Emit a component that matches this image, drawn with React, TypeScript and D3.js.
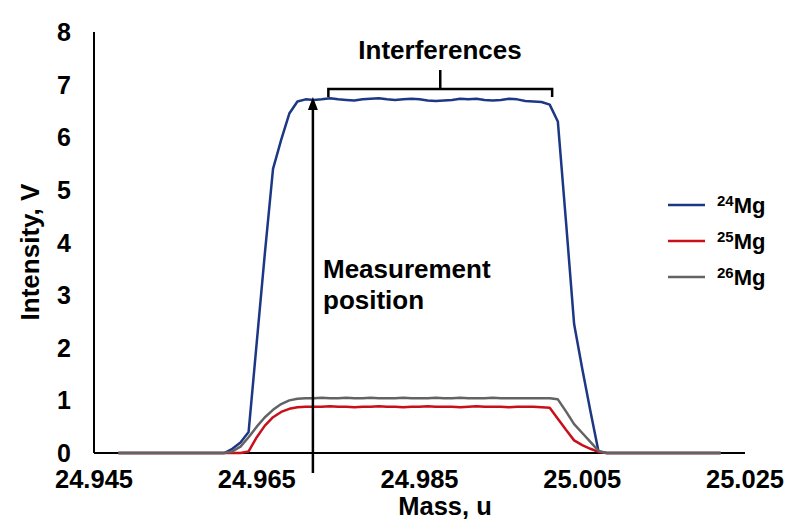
import React from "react";
import * as d3 from "d3";

const masses = [
  24.948, 24.961, 24.962, 24.963, 24.964, 24.965, 24.966, 24.967, 24.968, 24.969, 24.970,
  24.971, 24.972, 24.973, 24.974, 24.975, 24.976, 24.977, 24.978, 24.979, 24.980,
  24.981, 24.982, 24.983, 24.984, 24.985, 24.986, 24.987, 24.988, 24.989, 24.990,
  24.991, 24.992, 24.993, 24.994, 24.995, 24.996, 24.997, 24.998, 24.999, 25.000,
  25.001, 25.002, 25.003, 25.004, 25.005, 25.006, 25.007, 25.008, 25.022,
];

const mg24 = [
  0, 0, 0.08, 0.2, 0.4, 2.1, 3.8, 5.4, 5.95, 6.45, 6.68,
  6.72, 6.71, 6.72, 6.74, 6.72, 6.71, 6.70, 6.72, 6.73, 6.74,
  6.72, 6.71, 6.72, 6.73, 6.72, 6.70, 6.69, 6.70, 6.71, 6.73,
  6.72, 6.73, 6.71, 6.70, 6.71, 6.73, 6.72, 6.69, 6.68, 6.67,
  6.62, 6.3, 4.4, 2.45, 1.6, 0.8, 0.03, 0, 0,
];

const mg25 = [
  0, 0, 0, 0, 0.03, 0.3, 0.52, 0.68, 0.78, 0.84, 0.87,
  0.88, 0.88, 0.88, 0.89, 0.88, 0.88, 0.87, 0.88, 0.88, 0.89,
  0.88, 0.88, 0.87, 0.88, 0.88, 0.89, 0.88, 0.88, 0.88, 0.87,
  0.88, 0.89, 0.88, 0.88, 0.88, 0.87, 0.88, 0.88, 0.88, 0.87,
  0.86, 0.65, 0.44, 0.24, 0.15, 0.08, 0.02, 0, 0,
];

const mg26 = [
  0, 0, 0.03, 0.12, 0.3, 0.5, 0.68, 0.82, 0.93, 1.0, 1.03,
  1.04, 1.04, 1.05, 1.04, 1.04, 1.05, 1.04, 1.04, 1.05, 1.04,
  1.04, 1.04, 1.05, 1.04, 1.04, 1.04, 1.05, 1.04, 1.04, 1.05,
  1.04, 1.04, 1.04, 1.05, 1.04, 1.04, 1.04, 1.04, 1.04, 1.04,
  1.04, 1.02, 0.79, 0.55, 0.38, 0.21, 0.04, 0, 0,
];

const xTicks = [24.945, 24.965, 24.985, 25.005, 25.025];
const yTicks = [0, 1, 2, 3, 4, 5, 6, 7, 8];

const seriesNames = ["24", "25", "26"];
const seriesColors = ["#1c3784", "#c8101a", "#636363"];

const measurementMass = 24.9719;
const interferenceRange = [24.9738, 25.0013];

const FONT = "'Liberation Sans', Arial, sans-serif";

export default function App() {
  const W = 790;
  const H = 526;
  const x = d3.scaleLinear().domain([24.945, 25.025]).range([94, 745]);
  const y = d3.scaleLinear().domain([0, 8]).range([453, 32]);

  const series = [mg24, mg25, mg26];
  const line = d3
    .line<number>()
    .x((_, i) => x(masses[i]))
    .y((v) => y(v));

  const mx = x(measurementMass);
  const bx0 = x(interferenceRange[0]);
  const bx1 = x(interferenceRange[1]);
  const by = 89;
  const bmid = (bx0 + bx1) / 2;

  return (
    <svg
      width={W}
      height={H}
      style={{ position: "absolute", left: 0, top: 0, background: "#fff" }}
      fontFamily={FONT}
    >
      {/* axes */}
      <line x1={x(24.945)} y1={y(0)} x2={x(25.025)} y2={y(0)} stroke="#000" strokeWidth={2} />
      <line x1={x(24.945)} y1={y(0)} x2={x(24.945)} y2={y(8)} stroke="#000" strokeWidth={2} />

      {/* y tick labels */}
      {yTicks.map((t) => (
        <text
          key={t}
          x={71}
          y={y(t)}
          dy="0.36em"
          textAnchor="end"
          fontSize={25}
          fontWeight="bold"
        >
          {t}
        </text>
      ))}
      {/* x tick labels */}
      {xTicks.map((t) => (
        <text
          key={t}
          x={x(t)}
          y={488}
          textAnchor="middle"
          fontSize={25.5}
          fontWeight="bold"
        >
          {t.toFixed(3)}
        </text>
      ))}

      {/* axis titles */}
      <text x={445} y={515} textAnchor="middle" fontSize={25.5} fontWeight="bold">
        Mass, u
      </text>
      <text
        transform={`translate(39, 252) rotate(-90)`}
        textAnchor="middle"
        fontSize={26}
        fontWeight="bold"
      >
        Intensity, V
      </text>

      {/* series lines */}
      {series.map((s, i) => (
        <path
          key={i}
          d={line(s) || ""}
          fill="none"
          stroke={seriesColors[i]}
          strokeWidth={2.5}
          strokeLinejoin="round"
        />
      ))}

      {/* measurement arrow */}
      <line x1={mx} y1={473} x2={mx} y2={108} stroke="#000" strokeWidth={2.5} />
      <path d={`M${mx},97 L${mx - 5},110 L${mx + 5},110 Z`} fill="#000" />
      <text x={323} y={278} fontSize={26} fontWeight="bold">
        Measurement
      </text>
      <text x={323} y={309} fontSize={26} fontWeight="bold">
        position
      </text>

      {/* interference bracket */}
      <path
        d={`M${bx0},97 L${bx0},${by} L${bx1},${by} L${bx1},97 M${bmid},${by} L${bmid},70`}
        fill="none"
        stroke="#000"
        strokeWidth={2.5}
      />
      <text x={440} y={59} textAnchor="middle" fontSize={26} fontWeight="bold">
        Interferences
      </text>

      {/* legend */}
      {seriesNames.map((n, i) => {
        const ly = 205 + i * 36;
        return (
          <g key={n}>
            <line x1={668} x2={705} y1={ly} y2={ly} stroke={seriesColors[i]} strokeWidth={2.5} />
            <text x={717} y={ly + 8} fontWeight="bold" fontSize={22}>
              <tspan fontSize={15} dy={-7}>
                {n}
              </tspan>
              <tspan dy={7}>Mg</tspan>
            </text>
          </g>
        );
      })}
    </svg>
  );
}
